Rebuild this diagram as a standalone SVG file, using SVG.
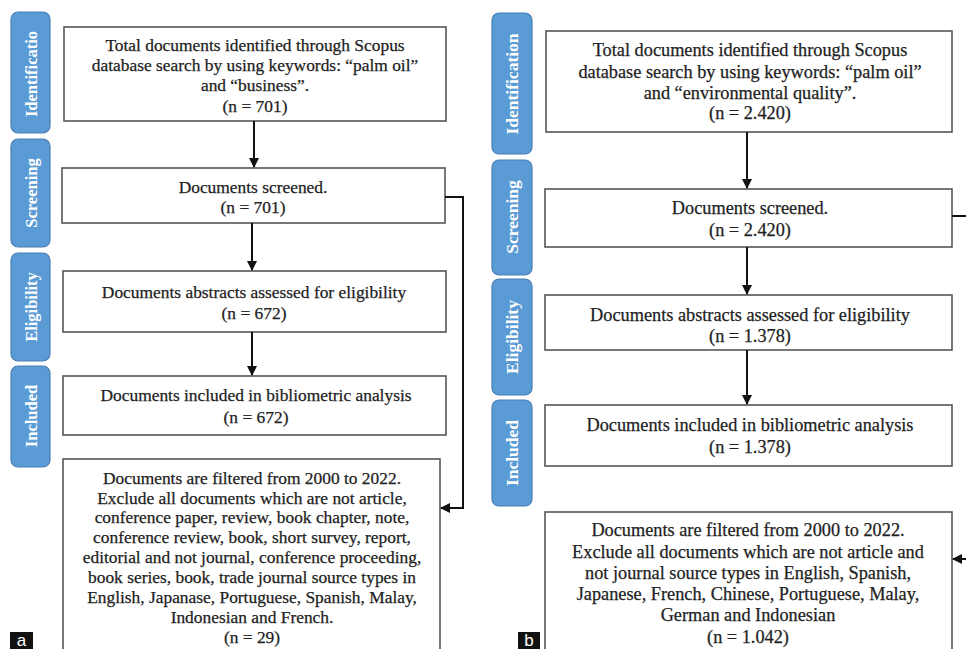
<svg xmlns="http://www.w3.org/2000/svg" width="966" height="649" viewBox="0 0 966 649">
<defs>
<marker id="ah" viewBox="0 0 10 10" refX="9" refY="5" markerWidth="10" markerHeight="10" markerUnits="userSpaceOnUse" orient="auto">
<path d="M0,0 L10,5 L0,10 Z" fill="#111"/>
</marker>
<style>
.tab{fill:#5b9bd5;stroke:#4a7fb5;stroke-width:1.2}
.tt{font-family:"Liberation Serif","Times New Roman",serif;font-weight:bold;font-size:16.5px;fill:#fff;text-anchor:middle}
.tr{font-family:"Liberation Serif","Times New Roman",serif;font-weight:bold;font-size:17.5px;fill:#fff;text-anchor:middle}
.box{fill:#fff;stroke:#555;stroke-width:1.6}
.bt{font-family:"Liberation Serif","Times New Roman",serif;font-size:17.4px;fill:#222;stroke:#222;stroke-width:0.25;text-anchor:middle}
.br{font-family:"Liberation Serif","Times New Roman",serif;font-size:18.3px;fill:#222;stroke:#222;stroke-width:0.25;text-anchor:middle}
.cn{fill:none;stroke:#111;stroke-width:2}
.lab{font-family:"Liberation Sans",Arial,sans-serif;font-size:17px;fill:#fff;text-anchor:middle}
</style>
</defs>
<rect width="966" height="649" fill="#fff"/>

<!-- Panel a -->
<g id="a-tab-identification"><rect class="tab" x="11" y="12" width="39" height="121" rx="7"/><text class="tt" transform="translate(36.5,74) rotate(-90)">Identificatio</text></g>
<g id="a-tab-screening"><rect class="tab" x="11" y="139" width="39" height="108" rx="7"/><text class="tt" transform="translate(36.5,193) rotate(-90)">Screening</text></g>
<g id="a-tab-eligibility"><rect class="tab" x="11" y="253" width="39" height="108" rx="7"/><text class="tt" transform="translate(36.5,307) rotate(-90)">Eligibility</text></g>
<g id="a-tab-included"><rect class="tab" x="11" y="366" width="39" height="101" rx="7"/><text class="tt" transform="translate(36.5,416) rotate(-90)">Included</text></g>

<g id="a-identified"><rect class="box" x="64" y="27" width="382" height="94"/>
<text class="bt" x="255" y="51">Total documents identified through Scopus</text>
<text class="bt" x="255" y="71">database search by using keywords: “palm oil”</text>
<text class="bt" x="255" y="91">and “business”.</text>
<text class="bt" x="255" y="112">(n = 701)</text></g>

<g id="a-screened"><rect class="box" x="62" y="168" width="383" height="55"/>
<text class="bt" x="253" y="193">Documents screened.</text>
<text class="bt" x="253" y="213">(n = 701)</text></g>

<g id="a-eligibility"><rect class="box" x="63" y="271" width="383" height="61"/>
<text class="bt" x="254" y="298">Documents abstracts assessed for eligibility</text>
<text class="bt" x="254" y="319">(n = 672)</text></g>

<g id="a-included"><rect class="box" x="63" y="376" width="383" height="59"/>
<text class="bt" x="256" y="401">Documents included in bibliometric analysis</text>
<text class="bt" x="256" y="423">(n = 672)</text></g>

<g id="a-filtered"><rect class="box" x="63" y="459" width="377" height="200"/>
<text class="bt" x="252" y="484">Documents are filtered from 2000 to 2022.</text>
<text class="bt" x="252" y="504">Exclude all documents which are not article,</text>
<text class="bt" x="252" y="523">conference paper, review, book chapter, note,</text>
<text class="bt" x="252" y="543">conference review, book, short survey, report,</text>
<text class="bt" x="252" y="563">editorial and not journal, conference proceeding,</text>
<text class="bt" x="252" y="583">book series, book, trade journal source types in</text>
<text class="bt" x="252" y="603">English, Japanase, Portuguese, Spanish, Malay,</text>
<text class="bt" x="252" y="623">Indonesian and French.</text>
<text class="bt" x="252" y="643">(n = 29)</text></g>

<g id="a-label"><rect x="10" y="632" width="23" height="17" fill="#111"/><text class="lab" x="21.5" y="646">a</text></g>

<!-- Panel b -->
<g id="b-tab-identification"><rect class="tab" x="492" y="13" width="40" height="141" rx="7"/><text class="tr" transform="translate(518,84) rotate(-90)">Identification</text></g>
<g id="b-tab-screening"><rect class="tab" x="492" y="160" width="40" height="115" rx="7"/><text class="tr" transform="translate(518,217) rotate(-90)">Screening</text></g>
<g id="b-tab-eligibility"><rect class="tab" x="492" y="279" width="40" height="116" rx="7"/><text class="tr" transform="translate(518,337) rotate(-90)">Eligibility</text></g>
<g id="b-tab-included"><rect class="tab" x="492" y="400" width="40" height="106" rx="7"/><text class="tr" transform="translate(518,453) rotate(-90)">Included</text></g>

<g id="b-identified"><rect class="box" x="546" y="31" width="406" height="101"/>
<text class="br" x="750" y="56">Total documents identified through Scopus</text>
<text class="br" x="750" y="78">database search by using keywords: “palm oil”</text>
<text class="br" x="750" y="99">and “environmental quality”.</text>
<text class="br" x="750" y="119">(n = 2.420)</text></g>

<g id="b-screened"><rect class="box" x="545" y="189" width="407" height="58"/>
<text class="br" x="750" y="214">Documents screened.</text>
<text class="br" x="750" y="236">(n = 2.420)</text></g>

<g id="b-eligibility"><rect class="box" x="545" y="295" width="407" height="55"/>
<text class="br" x="750" y="321">Documents abstracts assessed for eligibility</text>
<text class="br" x="750" y="342">(n = 1.378)</text></g>

<g id="b-included"><rect class="box" x="545" y="405" width="407" height="61"/>
<text class="br" x="750" y="431">Documents included in bibliometric analysis</text>
<text class="br" x="750" y="453">(n = 1.378)</text></g>

<g id="b-filtered"><rect class="box" x="545" y="512" width="407" height="150"/>
<text class="br" x="748" y="536">Documents are filtered from 2000 to 2022.</text>
<text class="br" x="748" y="558">Exclude all documents which are not article and</text>
<text class="br" x="748" y="579">not journal source types in English, Spanish,</text>
<text class="br" x="748" y="600">Japanese, French, Chinese, Portuguese, Malay,</text>
<text class="br" x="748" y="621">German and Indonesian</text>
<text class="br" x="748" y="643">(n = 1.042)</text></g>

<g id="b-label"><rect x="518" y="632" width="22" height="17" fill="#111"/><text class="lab" x="529" y="646">b</text></g>

<!-- Connectors -->
<g id="connectors">
<line class="cn" x1="254" y1="121" x2="254" y2="167" marker-end="url(#ah)"/>
<line class="cn" x1="252" y1="223" x2="252" y2="270" marker-end="url(#ah)"/>
<line class="cn" x1="252" y1="332" x2="252" y2="375" marker-end="url(#ah)"/>
<path class="cn" d="M445,197 H463 V508 H441" marker-end="url(#ah)"/>
<line class="cn" x1="747" y1="132" x2="747" y2="188" marker-end="url(#ah)"/>
<line class="cn" x1="747" y1="247" x2="747" y2="294" marker-end="url(#ah)"/>
<line class="cn" x1="747" y1="350" x2="747" y2="404" marker-end="url(#ah)"/>
<line class="cn" x1="952" y1="216" x2="968" y2="216"/>
<line class="cn" x1="968" y1="559" x2="953" y2="559" marker-end="url(#ah)"/>
</g>
</svg>
